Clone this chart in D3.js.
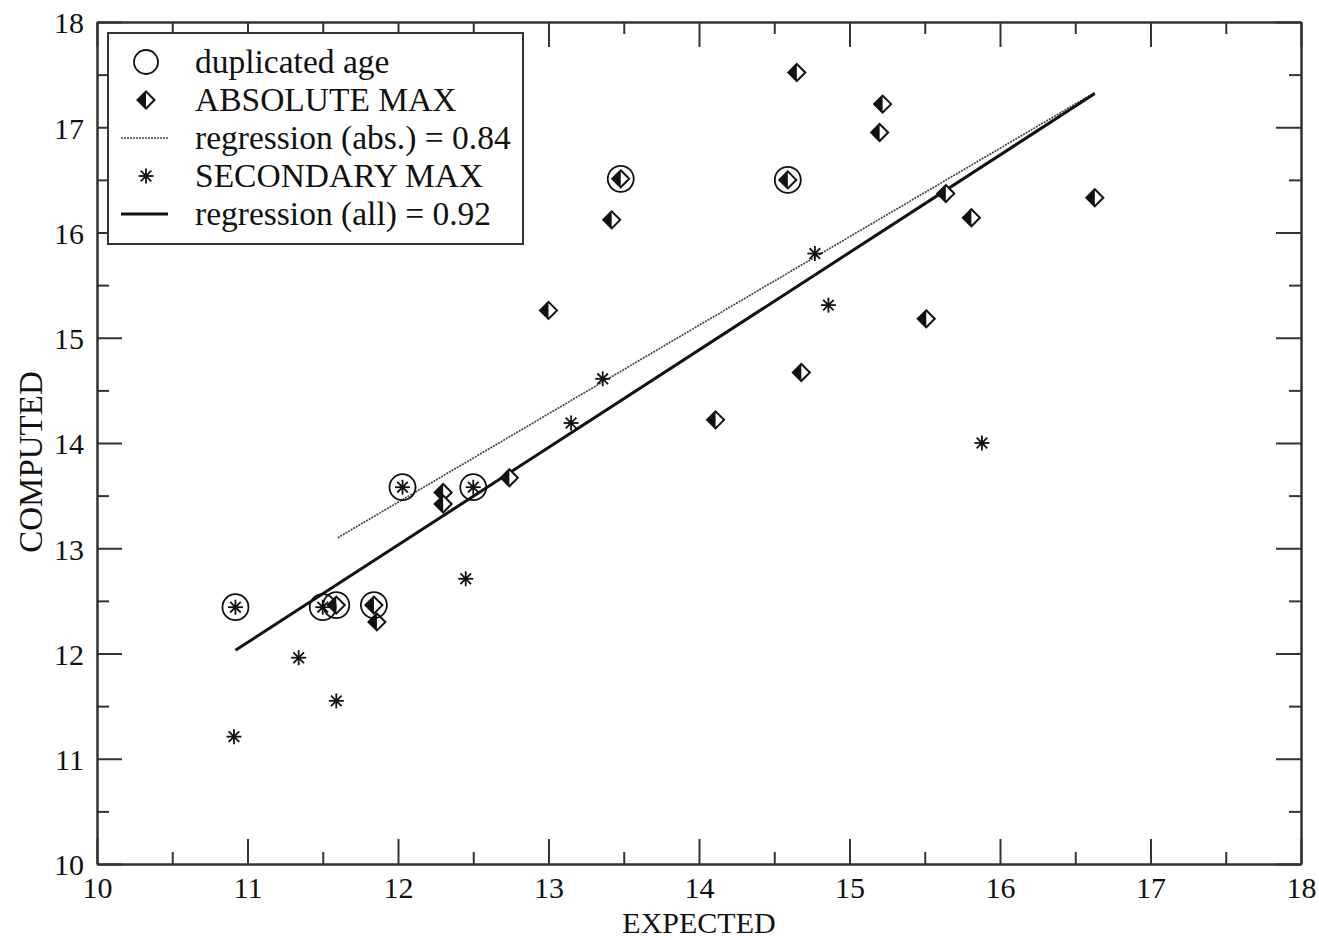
<!DOCTYPE html>
<html>
<head>
<meta charset="utf-8">
<script src="https://cdn.jsdelivr.net/npm/d3@7"></script>
<style>
  body { margin: 0; background: #fff; }
  svg { display: block; }
  text { font-family: "Liberation Serif", "Times New Roman", serif; fill: #111; }
</style>
</head>
<body>
<svg id="chart" width="1319" height="940"></svg>
<script>
/* Computed vs expected scatter with two regression lines */

// ABSOLUTE MAX points
const absX = [14.65, 15.22, 15.20, 13.48, 14.59, 13.42, 15.64, 15.81, 16.63, 13.00,
              15.51, 14.68, 14.11, 12.74, 12.30, 12.30, 11.59, 11.84, 11.86];
const absY = [17.52, 17.22, 16.95, 16.51, 16.50, 16.12, 16.37, 16.14, 16.33, 15.26,
              15.18, 14.67, 14.22, 13.67, 13.53, 13.42, 12.46, 12.46, 12.30];

// SECONDARY MAX points
const secX = [10.91, 11.34, 11.59, 10.92, 11.50, 12.03, 12.50, 12.45, 13.15, 13.36, 14.77, 14.86, 15.88];
const secY = [11.21, 11.96, 11.55, 12.44, 12.44, 13.58, 13.58, 12.71, 14.19, 14.61, 15.80, 15.31, 14.00];

// duplicated age (circled points)
const dupX = [10.92, 11.50, 11.59, 11.84, 12.03, 12.50, 13.48, 14.59];
const dupY = [12.44, 12.44, 12.46, 12.46, 13.58, 13.58, 16.51, 16.50];

// regression lines (end points)
const regAllX = [10.92, 16.63];
const regAllY = [12.03, 17.32];
const regAbsX = [11.60, 16.63];
const regAbsY = [13.10, 17.33];

// axis ticks
const xMajor = [10, 11, 12, 13, 14, 15, 16, 17, 18];
const xMinor = [10.5, 11.5, 12.5, 13.5, 14.5, 15.5, 16.5, 17.5];
const yMajor = [10, 11, 12, 13, 14, 15, 16, 17, 18];
const yMinor = [10.5, 11.5, 12.5, 13.5, 14.5, 15.5, 16.5, 17.5];

const legendItems = [
  { label: "duplicated age", kind: "circle" },
  { label: "ABSOLUTE MAX", kind: "diamond" },
  { label: "regression (abs.) = 0.84", kind: "dotted" },
  { label: "SECONDARY MAX", kind: "star" },
  { label: "regression (all) = 0.92", kind: "solid" }
];

const FONT = '"Liberation Serif", "Times New Roman", serif';
const svg = d3.select("#chart");
const AXIS = "#333";

const x = d3.scaleLinear().domain([10, 18]).range([97, 1301]);
const y = d3.scaleLinear().domain([10, 18]).range([864, 22]);
const [x0, x1] = x.range();
const [y0, y1] = y.range();

// ---- axes (ticks point inward, on all four sides) ----
function styleAxis(sel) {
  sel.attr("font-family", FONT).attr("font-size", 30);
  sel.selectAll(".domain").attr("stroke", AXIS).attr("stroke-width", 2);
  sel.selectAll(".tick line").attr("stroke", AXIS).attr("stroke-width", 2);
  sel.selectAll("text").style("font-family", FONT).style("font-size", "30px").attr("fill", "#111");
}

const axes = svg.append("g").attr("class", "axes");

axes.append("g").attr("transform", `translate(0,${y0})`)
  .call(d3.axisBottom(x).tickValues(xMajor).tickSizeInner(-25).tickSizeOuter(0)
    .tickPadding(13).tickFormat(d3.format("d")))
  .call(styleAxis);
axes.append("g").attr("transform", `translate(0,${y0})`)
  .call(d3.axisBottom(x).tickValues(xMinor).tickSizeInner(-12).tickSizeOuter(0).tickFormat(""))
  .call(styleAxis);

axes.append("g").attr("transform", `translate(0,${y1})`)
  .call(d3.axisTop(x).tickValues(xMajor).tickSizeInner(-25).tickSizeOuter(0).tickFormat(""))
  .call(styleAxis);
axes.append("g").attr("transform", `translate(0,${y1})`)
  .call(d3.axisTop(x).tickValues(xMinor).tickSizeInner(-12).tickSizeOuter(0).tickFormat(""))
  .call(styleAxis);

axes.append("g").attr("transform", `translate(${x0},0)`)
  .call(d3.axisLeft(y).tickValues(yMajor).tickSizeInner(-25).tickSizeOuter(0)
    .tickPadding(13).tickFormat(d3.format("d")))
  .call(styleAxis)
  .selectAll("text").attr("dy", "0.36em");
axes.append("g").attr("transform", `translate(${x0},0)`)
  .call(d3.axisLeft(y).tickValues(yMinor).tickSizeInner(-12).tickSizeOuter(0).tickFormat(""))
  .call(styleAxis);

axes.append("g").attr("transform", `translate(${x1},0)`)
  .call(d3.axisRight(y).tickValues(yMajor).tickSizeInner(-25).tickSizeOuter(0).tickFormat(""))
  .call(styleAxis);
axes.append("g").attr("transform", `translate(${x1},0)`)
  .call(d3.axisRight(y).tickValues(yMinor).tickSizeInner(-12).tickSizeOuter(0).tickFormat(""))
  .call(styleAxis);

// axis titles
svg.append("text")
  .attr("x", (x0 + x1) / 2).attr("y", 933)
  .attr("text-anchor", "middle")
  .style("font-size", "30px")
  .text("EXPECTED");

svg.append("text")
  .attr("transform", `translate(42,462) rotate(-90)`)
  .attr("text-anchor", "middle")
  .style("font-size", "33px")
  .text("COMPUTED");

// ---- regression lines ----
const line = d3.line().x(d => x(d[0])).y(d => y(d[1]));

svg.append("path")
  .datum(d3.zip(regAbsX, regAbsY))
  .attr("fill", "none")
  .attr("stroke", "#444")
  .attr("stroke-width", 1.7)
  .attr("stroke-dasharray", "2,1")
  .attr("d", line);

svg.append("path")
  .datum(d3.zip(regAllX, regAllY))
  .attr("fill", "none")
  .attr("stroke", "#111")
  .attr("stroke-width", 3)
  .attr("d", line);

// ---- marker helpers ----
const DS = 8.5; // diamond half-diagonal
function drawDiamond(g) {
  g.append("path")
    .attr("d", `M0,${-DS}L${DS},0L0,${DS}L${-DS},0Z`)
    .attr("fill", "#fff").attr("stroke", "#111").attr("stroke-width", 2);
  g.append("path")
    .attr("d", `M0,${-DS}L0,${DS}L${-DS},0Z`)
    .attr("fill", "#111");
}
const SR = 7.5; // asterisk radius
function drawStar(g) {
  [0, 45, 90, 135].forEach(a => {
    g.append("line")
      .attr("x1", -SR).attr("x2", SR).attr("y1", 0).attr("y2", 0)
      .attr("transform", `rotate(${a})`)
      .attr("stroke", "#111").attr("stroke-width", 1.8);
  });
  g.append("circle").attr("r", 2.2).attr("fill", "#111");
}

// diamonds
svg.append("g").selectAll("g")
  .data(d3.zip(absX, absY))
  .join("g")
  .attr("transform", d => `translate(${x(d[0])},${y(d[1])})`)
  .each(function () { drawDiamond(d3.select(this)); });

// asterisks
svg.append("g").selectAll("g")
  .data(d3.zip(secX, secY))
  .join("g")
  .attr("transform", d => `translate(${x(d[0])},${y(d[1])})`)
  .each(function () { drawStar(d3.select(this)); });

// circles for duplicated ages
svg.append("g").selectAll("circle")
  .data(d3.zip(dupX, dupY))
  .join("circle")
  .attr("cx", d => x(d[0]))
  .attr("cy", d => y(d[1]))
  .attr("r", 13)
  .attr("fill", "none")
  .attr("stroke", "#111")
  .attr("stroke-width", 1.8);

// ---- legend (drawn over the ticks) ----
const lg = svg.append("g").attr("class", "legend");
lg.append("rect")
  .attr("x", 108).attr("y", 33).attr("width", 415).attr("height", 211)
  .attr("fill", "#fff").attr("stroke", AXIS).attr("stroke-width", 2);

legendItems.forEach((it, i) => {
  const cy = 62 + i * 38;
  const row = lg.append("g");
  if (it.kind === "circle") {
    row.append("circle").attr("cx", 146).attr("cy", cy).attr("r", 12)
      .attr("fill", "none").attr("stroke", "#111").attr("stroke-width", 1.8);
  } else if (it.kind === "diamond") {
    drawDiamond(row.append("g").attr("transform", `translate(146,${cy})`));
  } else if (it.kind === "star") {
    drawStar(row.append("g").attr("transform", `translate(146,${cy})`));
  } else {
    row.append("line").attr("x1", 121).attr("x2", 168).attr("y1", cy).attr("y2", cy)
      .attr("stroke", it.kind === "solid" ? "#111" : "#444")
      .attr("stroke-width", it.kind === "solid" ? 3 : 1.7)
      .attr("stroke-dasharray", it.kind === "solid" ? null : "2,1");
  }
  row.append("text")
    .attr("x", 195).attr("y", cy + 11)
    .style("font-size", "33.5px")
    .text(it.label);
});
</script>
</body>
</html>
